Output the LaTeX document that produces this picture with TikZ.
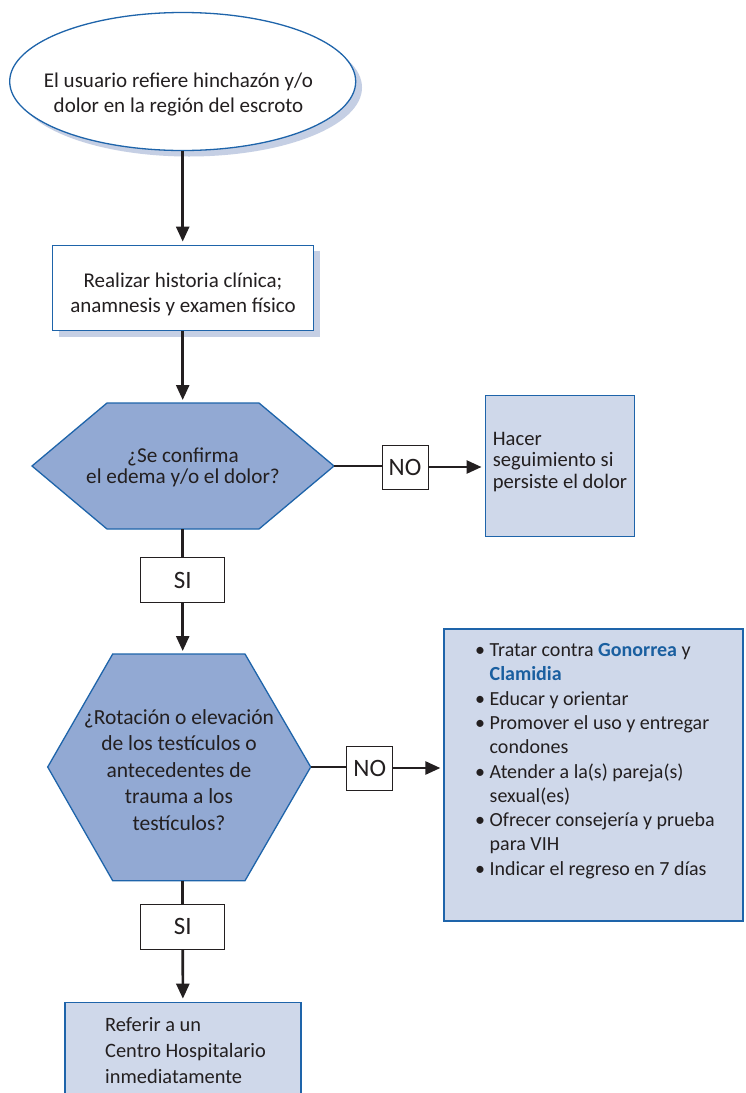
\documentclass[tikz,border=0pt]{standalone}
\usepackage{fontspec}
\setmainfont{Carlito}
\usetikzlibrary{arrows.meta}
\definecolor{bord}{RGB}{30,100,170}
\definecolor{hexfill}{RGB}{146,169,211}
\definecolor{lightfill}{RGB}{207,216,234}
\definecolor{shadowc}{RGB}{197,207,228}
\definecolor{txt}{RGB}{35,31,32}
\definecolor{bluetxt}{RGB}{26,95,160}
\newcommand{\bl}{\textbullet\ }
\newcommand{\hb}{\hphantom{\textbullet\ }}
\begin{document}
\begin{tikzpicture}[x=1pt,y=-1pt,
  every node/.style={text=txt, inner sep=0pt},
  arr/.style={draw=txt, line width=2.6pt, shorten >=3pt, -{Triangle[length=15pt,width=13pt]}},
  conn/.style={draw=txt, line width=2.6pt},
  lbl/.style={draw=txt, line width=1pt, fill=white, minimum width=84pt, minimum height=45pt, font=\fontsize{25}{30}\selectfont},
  nolbl/.style={lbl, minimum width=46pt, minimum height=44pt},
  outline/.style={draw=bord, line width=1.3pt},
  body/.style={font=\fontsize{21}{25}\selectfont}
]
\useasboundingbox (0,0) rectangle (745,1093);
\clip (0,0) rectangle (745,1093);
\fill[white] (0,0) rectangle (745,1093);

% start ellipse with shadow
\fill[shadowc] (189,87.5) ellipse [x radius=173pt, y radius=69pt];
\filldraw[outline, fill=white] (182.7,81.5) ellipse [x radius=173pt, y radius=69pt];
\coordinate (startbot) at (182.7,150.5);
\node[body, align=center] (start) at (178.5,94.5)
      {El usuario refiere hinchazón y/o\\dolor en la región del escroto};

% history box with shadow
\fill[shadowc] (59,251) rectangle (320,337);
\node[rectangle, outline, fill=white, minimum width=261pt, minimum height=85.5pt] (hist) at (182.7,288) {};
\node[body, align=center] (histtxt) at (183,294.5)
      {Realizar historia clínica;\\anamnesis y examen físico};

% decision 1
\coordinate (h1top) at (182.7,403);
\coordinate (h1bot) at (182.7,529);
\coordinate (h1right) at (334,466);
\filldraw[outline, fill=hexfill] (32,466) -- (107,403) -- (259,403) -- (334,466)
   -- (259,529) -- (107,529) -- cycle;
\node[font=\fontsize{21.2}{21}\selectfont, align=center] (q1) at (183,467)
   {¿Se confirma\\el edema y/o el dolor?};

% follow-up box
\node[rectangle, outline, fill=lightfill, minimum width=149pt, minimum height=141pt] (follow) at (559.7,466.2) {};
\node[anchor=west, font=\fontsize{20.6}{21.2}\selectfont, align=left] (followtxt) at (492.7,462)
   {Hacer\\seguimiento si\\persiste el dolor};

% decision 2
\coordinate (h2top) at (182.7,654);
\coordinate (h2bot) at (182.7,880.7);
\coordinate (h2right) at (310.7,767);
\filldraw[outline, fill=hexfill] (47.7,767) -- (112.7,654) -- (245,654) -- (310.7,767)
   -- (245,880.7) -- (112.7,880.7) -- cycle;
\node[font=\fontsize{21.5}{26.4}\selectfont, align=center] (q2) at (179,770)
   {¿Rotación o elevación\\de los testículos o\\antecedentes de\\trauma a los\\testículos?};

% treatment box
\node[rectangle, outline, fill=lightfill, minimum width=299pt, minimum height=292pt] (treat) at (593.5,775) {};
\node[anchor=west, font=\fontsize{20}{24.3}\selectfont, align=left] (treattxt) at (475,761)
   {\bl Tratar contra {\bfseries\color{bluetxt}Gonorrea} y\\
    \hb{\bfseries\color{bluetxt}Clamidia}\\
    \bl Educar y orientar\\
    \bl Promover el uso y entregar\\
    \hb condones\\
    \bl Atender a la(s) pareja(s)\\
    \hb sexual(es)\\
    \bl Ofrecer consejería y prueba\\
    \hb para VIH\\
    \bl Indicar el regreso en 7 días};

% refer box (continues past bottom edge)
\node[rectangle, outline, fill=lightfill, minimum width=236pt, minimum height=100pt] (refer) at (182.9,1052.3) {};
\node[anchor=west, font=\fontsize{20.4}{26}\selectfont, align=left] (refertxt) at (105,1050.5)
   {Referir a un\\Centro Hospitalario\\inmediatamente};

% labels
\node[lbl] (si1) at (182.7,580) {SI};
\node[lbl] (si2) at (182.7,926.8) {SI};
\node[nolbl] (no1) at (405,467) {NO};
\node[nolbl] (no2) at (369.7,768) {NO};

% connectors
\draw[arr] (startbot) -- (hist.north);
\draw[arr] (hist.south) -- (h1top);
\draw[conn] (h1bot) -- (si1.north);
\draw[arr] (si1.south) -- (h2top);
\draw[conn] (h2bot) -- (si2.north);
\draw[arr] (si2.south) -- (refer.north);
\draw[conn] (h1right) -- (h1right -| no1.west);
\draw[arr] (no1.east) -- (no1.east -| follow.west);
\draw[conn] (h2right) -- (h2right -| no2.west);
\draw[arr] (no2.east) -- (no2.east -| treat.west);
\end{tikzpicture}
\end{document}
